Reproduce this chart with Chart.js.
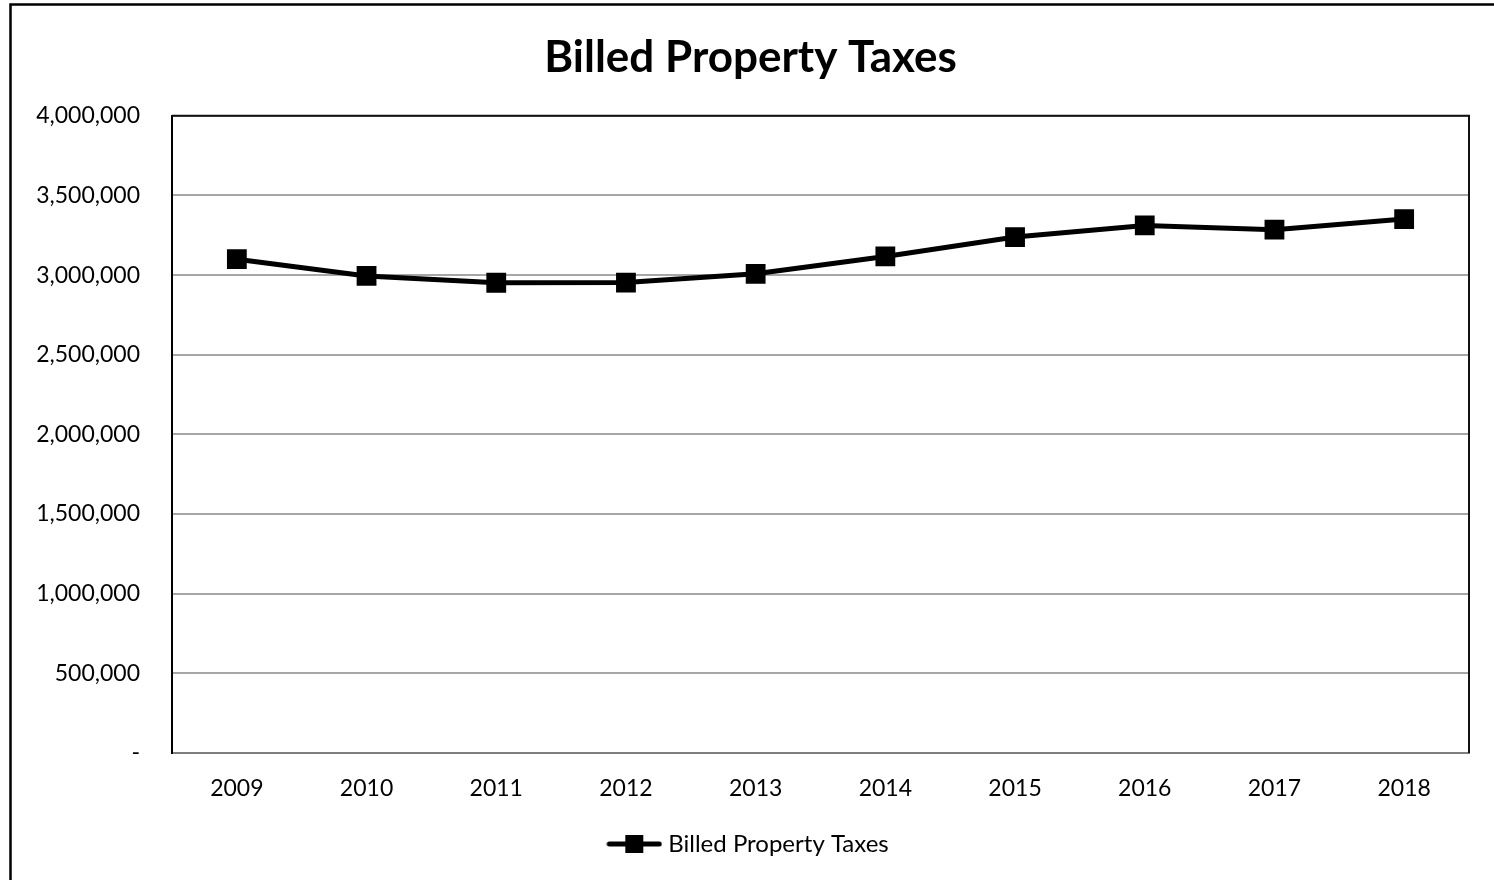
<!DOCTYPE html>
<html>
<head>
<meta charset="utf-8">
<title>Billed Property Taxes</title>
<script src="https://cdn.jsdelivr.net/npm/chart.js@4"></script>
<style>
  html, body { margin: 0; padding: 0; background: #fff; }
  canvas { display: block; }
</style>
</head>
<body>
<canvas id="taxChart" width="1494" height="880"></canvas>
<script>
// ===============================
// Billed property taxes by year
// ===============================

const years = ["2009", "2010", "2011", "2012", "2013", "2014", "2015", "2016", "2017", "2018"];

const billedTaxes = [3100000, 2995000, 2952000, 2953000, 3008000, 3117000, 3239000, 3312000, 3285000, 3352000];

const yTicks = [0, 500000, 1000000, 1500000, 2000000, 2500000, 3000000, 3500000, 4000000];

const seriesName = "Billed Property Taxes";

Chart.defaults.font.family = "Lato, 'Open Sans', sans-serif";
Chart.defaults.color = "#000";

// legend symbol: short line with a square on it
function legendIcon() {
    const c = document.createElement("canvas");
    c.width = 56;
    c.height = 20;
    const g = c.getContext("2d");
    g.strokeStyle = "#000";
    g.lineWidth = 5;
    g.lineCap = "round";
    g.beginPath();
    g.moveTo(3, 10);
    g.lineTo(53, 10);
    g.stroke();
    g.fillStyle = "#000";
    g.fillRect(19, 1, 18, 18);
    return c;
}

const icon = legendIcon();

// white page with the outer frame
const pageFrame = {
    id: "pageFrame",
    beforeDraw(chart) {
        const ctx = chart.ctx;
        ctx.save();
        ctx.fillStyle = "#fff";
        ctx.fillRect(0, 0, chart.width, chart.height);
        ctx.strokeStyle = "#000";
        ctx.lineWidth = 2.5;
        ctx.strokeRect(10.5, 4.5, chart.width + 20, chart.height + 20);
        ctx.restore();
    }
};

// top and right edge of the plot box
const plotBox = {
    id: "plotBox",
    beforeDatasetsDraw(chart) {
        const a = chart.chartArea;
        const ctx = chart.ctx;
        ctx.save();
        ctx.strokeStyle = "#111";
        ctx.lineWidth = 2;
        ctx.beginPath();
        ctx.moveTo(a.left, a.top);
        ctx.lineTo(a.right, a.top);
        ctx.lineTo(a.right, a.bottom);
        ctx.stroke();
        ctx.restore();
    }
};

new Chart(document.getElementById("taxChart"), {

    type: "line",

    data: {
        labels: years,
        datasets: [
            {
                label: seriesName,
                data: billedTaxes,
                borderColor: "#000",
                backgroundColor: "#000",
                borderWidth: 5,
                tension: 0,
                fill: false,
                pointStyle: "rect",
                pointRadius: 14,
                pointHoverRadius: 14,
                pointBorderWidth: 0,
                pointBackgroundColor: "#000"
            }
        ]
    },

    options: {
        responsive: false,
        animation: false,
        layout: {
            padding: { top: 10, left: 32, right: 25, bottom: 14 }
        },
        plugins: {
            title: {
                display: true,
                text: seriesName,
                color: "#000",
                font: { size: 44, weight: "bold" },
                padding: { top: 21, bottom: 32 }
            },
            legend: {
                display: true,
                position: "bottom",
                labels: {
                    usePointStyle: true,
                    pointStyleWidth: 44,
                    padding: 24,
                    color: "#000",
                    font: { size: 24 },
                    generateLabels(chart) {
                        return Chart.defaults.plugins.legend.labels.generateLabels(chart)
                            .map(item => Object.assign(item, { pointStyle: icon }));
                    }
                }
            },
            tooltip: { enabled: false }
        },
        scales: {
            x: {
                offset: true,
                grid: { display: false, drawTicks: false },
                border: { display: true, color: "#7f7f7f", width: 2 },
                ticks: { padding: 22, color: "#000", font: { size: 23 } },
                afterFit(scale) {
                    scale.height = 55;
                }
            },
            y: {
                min: 0,
                max: 4000000,
                afterBuildTicks(scale) {
                    scale.ticks = yTicks.map(v => ({ value: v }));
                },
                grid: { color: "#a6a6a6", lineWidth: 2, drawTicks: false },
                border: { display: true, color: "#000", width: 2 },
                ticks: {
                    padding: 32,
                    color: "#000",
                    font: { size: 23 },
                    callback: v => v === 0 ? "-" : v.toLocaleString("en-US")
                },
                afterFit(scale) {
                    scale.width = 140;
                }
            }
        }
    },

    plugins: [pageFrame, plotBox]

});
</script>
</body>
</html>
